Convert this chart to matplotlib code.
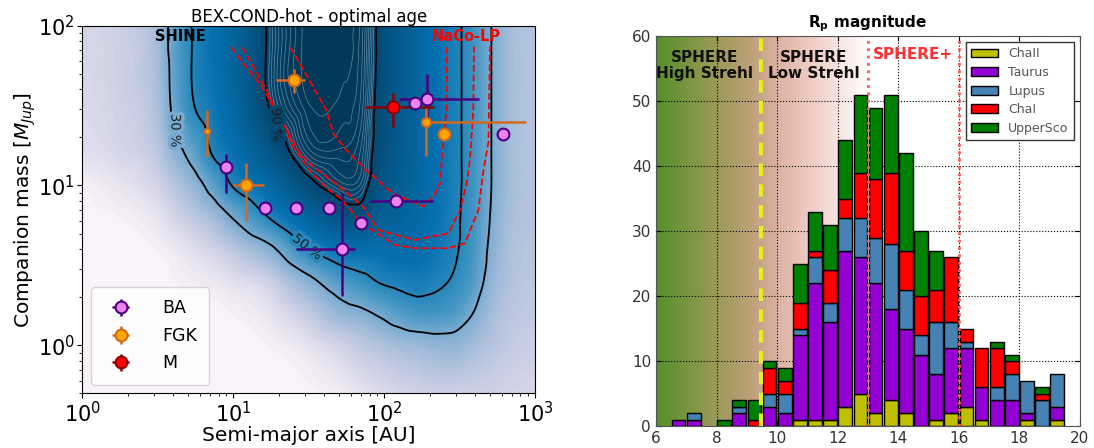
import numpy as np
import matplotlib.pyplot as plt
import matplotlib.tri as mtri
import matplotlib.patheffects as pe
from matplotlib.colors import LinearSegmentedColormap, PowerNorm

# ---------------- left panel: detection probability map ----------------
# probability on a grid (a in AU, m in M_Jup)
grid_a = [1, 1.78, 3.13, 4.16, 5.52, 7.33, 9.73, 17.1, 30.2, 53.3,
          70.8, 94.0, 125, 166, 220, 292, 387, 514, 682, 1000]
grid_m = [0.5, 1, 1.58, 2.51, 3.98, 6.31, 10, 15.8, 31.6, 100]
prob_rows = [
    [0, 0, 0, 0, 0, 0, 0, 0, 0, 0.02, 0.04, 0.06, 0.08, 0.09, 0.10, 0.10, 0.10, 0.10, 0.09, 0.08],
    [0, 0, 0, 0, 0, 0, 0, 0.01, 0.04, 0.10, 0.14, 0.17, 0.20, 0.22, 0.24, 0.24, 0.20, 0.16, 0.13, 0.11],
    [0, 0, 0, 0, 0, 0, 0.01, 0.04, 0.12, 0.24, 0.27, 0.32, 0.38, 0.42, 0.42, 0.39, 0.30, 0.20, 0.15, 0.13],
    [0, 0, 0, 0.01, 0.02, 0.03, 0.05, 0.10, 0.25, 0.40, 0.45, 0.51, 0.54, 0.56, 0.53, 0.48, 0.39, 0.24, 0.17, 0.14],
    [0, 0, 0.01, 0.03, 0.06, 0.09, 0.14, 0.26, 0.48, 0.62, 0.64, 0.63, 0.65, 0.64, 0.59, 0.52, 0.42, 0.27, 0.18, 0.15],
    [0, 0.01, 0.04, 0.09, 0.14, 0.20, 0.30, 0.50, 0.70, 0.84, 0.85, 0.76, 0.73, 0.68, 0.61, 0.53, 0.43, 0.29, 0.19, 0.16],
    [0.01, 0.04, 0.09, 0.16, 0.24, 0.36, 0.50, 0.67, 0.86, 0.94, 0.93, 0.83, 0.77, 0.70, 0.62, 0.54, 0.43, 0.30, 0.20, 0.16],
    [0.05, 0.08, 0.14, 0.25, 0.36, 0.51, 0.60, 0.80, 0.95, 0.97, 0.95, 0.86, 0.79, 0.71, 0.62, 0.54, 0.43, 0.30, 0.20, 0.16],
    [0.07, 0.10, 0.18, 0.35, 0.50, 0.58, 0.68, 0.90, 0.99, 0.99, 0.97, 0.87, 0.80, 0.71, 0.62, 0.54, 0.43, 0.30, 0.20, 0.16],
    [0.08, 0.11, 0.20, 0.38, 0.52, 0.62, 0.71, 0.91, 1.00, 1.00, 0.98, 0.88, 0.80, 0.71, 0.62, 0.54, 0.43, 0.30, 0.20, 0.16],
]

# NaCo-LP detection limits (red dashed)
naco_outer_a = [9.75, 11.7, 15.0, 20.4, 25.0, 33.1, 42.7, 52.4, 71.1, 118, 160, 267, 344, 380, 422, 444, 461, 491, 504]
naco_outer_m = [73.3, 57.7, 43.3, 26.8, 17.4, 12.0, 9.44, 8.18, 5.79, 4.25, 4.05, 4.05, 4.35, 5.52, 7.01, 10.4, 13.2, 18.5, 74]
naco_mid_a = [11.5, 13.6, 16.6, 21.5, 27.7, 34.0, 51.1, 72.8, 91.6, 160, 267, 319, 353, 371, 390, 394]
naco_mid_m = [73.3, 55.0, 39.4, 24.4, 15.8, 13.1, 9.8, 7.36, 5.26, 4.56, 5.02, 7.01, 10.4, 14.5, 29.8, 74]
naco_in_a = [24.0, 27.7, 34.0, 41.6, 46.1, 56.5, 76.6, 115, 182, 212, 235, 241, 260, 260]
naco_in_m = [73.3, 57.7, 41.2, 29.5, 21.1, 16.6, 12.4, 8.9, 7.4, 8.5, 10.3, 14.5, 31.3, 73.3]

# known companions
ba_a = [9.0, 16.2, 26.1, 42.9, 70.3, 52.5, 120, 160, 193, 615]
ba_m = [13.0, 7.2, 7.2, 7.2, 5.8, 4.0, 8.0, 32.7, 35.0, 20.9]
ba_a_lo = [9.0, 14.8, 26.1, 42.9, 70.3, 26.2, 80.4, 160, 126, 615]
ba_a_hi = [9.0, 16.2, 26.1, 42.9, 70.3, 63.9, 210, 160, 428, 615]
ba_m_lo = [9.0, 7.2, 7.2, 7.2, 5.8, 2.02, 7.3, 29.5, 25.0, 20.9]
ba_m_hi = [15.8, 7.2, 7.2, 7.2, 5.8, 8.96, 8.8, 36.0, 49.9, 20.9]

fgk_a = [6.74, 12.1, 25.1, 190, 249]
fgk_m = [22.0, 10.0, 45.8, 25.0, 20.9]
fgk_a_lo = [6.74, 9.9, 19.3, 190, 249]
fgk_a_hi = [6.74, 16.0, 30.0, 871, 249]
fgk_m_lo = [15.0, 6.0, 38.1, 15.2, 20.9]
fgk_m_hi = [29.7, 13.8, 53.4, 31.9, 20.9]
fgk_size = [4, 8.5, 8.5, 6.5, 8.5]

m_a = [115]
m_m = [30.9]
m_a_lo = [75]
m_a_hi = [215]
m_m_lo = [23.2]
m_m_hi = [37.8]

# ---------------- right panel: R_p magnitude histogram ----------------
mag_bins = np.arange(6.0, 19.5, 0.5)
chaII = [0, 0, 0, 0, 0, 0, 0, 0, 0, 1, 1, 1, 3, 5, 2, 4, 2, 0, 1, 2, 3, 1, 0, 0, 1, 0, 1]
taurus = [0, 1, 1, 0, 0, 2, 0, 3, 2, 13, 21, 15, 24, 21, 20, 14, 13, 11, 7, 10, 9, 5, 4, 4, 1, 0, 2]
lupus = [0, 0, 1, 0, 0, 1, 0, 2, 3, 1, 4, 3, 5, 6, 7, 10, 6, 3, 8, 4, 1, 0, 2, 4, 5, 4, 5]
chaI = [0, 0, 0, 0, 0, 0, 1, 4, 2, 4, 1, 5, 3, 7, 9, 11, 6, 6, 5, 10, 2, 6, 6, 2, 0, 1, 0]
uppersco = [0, 0, 0, 0, 1, 1, 3, 1, 2, 6, 6, 7, 9, 12, 11, 12, 15, 10, 6, 0, 0, 0, 1, 1, 0, 1, 0]
regions = ['ChaII', 'Taurus', 'Lupus', 'ChaI', 'UpperSco']
region_colors = ['#bfbf00', '#9400d3', '#4682b4', '#ff0000', '#008000']

fig = plt.figure(figsize=(10.94, 4.48), dpi=100)

# ======== left ========
ax = fig.add_axes([0.0754, 0.1221, 0.4136, 0.8205])

# smooth the read grid with matplotlib's cubic triangle interpolator
lx, ly = np.meshgrid(np.log10(grid_a), np.log10(grid_m))
nx, ny = len(grid_a), len(grid_m)
tris = []
for j in range(ny - 1):
    for i in range(nx - 1):
        k = j * nx + i
        tris.append([k, k + 1, k + nx + 1])
        tris.append([k, k + nx + 1, k + nx])
tri = mtri.Triangulation(lx.ravel(), ly.ravel(), tris)
interp = mtri.CubicTriInterpolator(tri, np.array(prob_rows).ravel(), kind='geom')
gx = np.linspace(lx.min() + 1e-9, lx.max() - 1e-9, 360)
gy = np.linspace(ly.min() + 1e-9, ly.max() - 1e-9, 300)
GX, GY = np.meshgrid(gx, gy)
P = np.clip(np.ma.filled(interp(GX, GY), 0.0), 0, 1)
A, M = 10 ** GX, 10 ** GY

cmap = plt.get_cmap('PuBu')
norm = PowerNorm(gamma=0.6, vmin=0, vmax=1)
ax.contourf(A, M, P, levels=np.linspace(0, 1.0001, 101), cmap=cmap, norm=norm, zorder=0)
ax.contour(A, M, P, levels=np.arange(0.915, 1.0, 0.01), colors='#9fb8cc',
           linewidths=0.5, alpha=0.6, zorder=0.5)
cs = ax.contour(A, M, P, levels=[0.3, 0.5, 0.9], colors='black', linewidths=1.3, zorder=1)
labels = ax.clabel(cs, fmt={0.3: '30 %', 0.5: '50 %', 0.9: '90 %'}, fontsize=9.5,
                   manual=[(4.3, 22), (32, 4.3), (23, 24)], inline=False)
for t in labels:
    lvl = float(t.get_text().split()[0]) / 100.0
    t.set_color('#202020')
    t.set_path_effects([pe.withStroke(linewidth=5, foreground=cmap(norm(lvl)))])

for xa, ym in [(naco_outer_a, naco_outer_m), (naco_mid_a, naco_mid_m), (naco_in_a, naco_in_m)]:
    ax.plot(xa, ym, color='red', linestyle='--', linewidth=1.3, zorder=2)


def draw_group(a, m, a_lo, a_hi, m_lo, m_hi, sizes, fc, ec):
    handle = None
    best = -1
    for i in range(len(a)):
        xe = [[a[i] - a_lo[i]], [a_hi[i] - a[i]]]
        ye = [[m[i] - m_lo[i]], [m_hi[i] - m[i]]]
        h = ax.errorbar([a[i]], [m[i]], xerr=xe, yerr=ye, fmt='o', ms=sizes[i],
                        mfc=fc, mec=ec, mew=1.5, ecolor=ec, elinewidth=1.8,
                        capsize=0, zorder=5)
        if sizes[i] > best:
            best = sizes[i]
            handle = h
    return handle


h_ba = draw_group(ba_a, ba_m, ba_a_lo, ba_a_hi, ba_m_lo, ba_m_hi, [8.5] * len(ba_a),
                  'violet', '#4b0082')
h_fgk = draw_group(fgk_a, fgk_m, fgk_a_lo, fgk_a_hi, fgk_m_lo, fgk_m_hi, fgk_size,
                   'orange', '#d2691e')
h_m = draw_group(m_a, m_m, m_a_lo, m_a_hi, m_m_lo, m_m_hi, [8.5],
                 'red', '#8b0000')

ax.set_xscale('log')
ax.set_yscale('log')
ax.set_xlim(1, 1000)
ax.set_ylim(0.5, 100)
ax.text(0.217, 0.972, 'SHINE', transform=ax.transAxes, ha='center', va='center',
        fontsize=10.5, fontweight='bold', color='black')
ax.text(0.849, 0.972, 'NaCo-LP', transform=ax.transAxes, ha='center', va='center',
        fontsize=10.5, fontweight='bold', color='red')
ax.set_title('BEX-COND-hot - optimal age', fontsize=12, pad=3)
ax.set_xlabel('Semi-major axis [AU]', fontsize=14.5, labelpad=0)
ax.set_ylabel('Companion mass [$M_{Jup}$]', fontsize=14.5, labelpad=0)
ax.tick_params(axis='both', which='major', labelsize=15, pad=2)
ax.legend([h_ba, h_fgk, h_m], ['BA', 'FGK', 'M'], loc='lower left', fontsize=12.5,
          handletextpad=1.4, borderpad=0.7, labelspacing=0.55)

# ======== right ========
ax2 = fig.add_axes([0.5996, 0.0491, 0.3876, 0.8705])

bg_pos = [6, 7, 8, 9, 9.45, 10, 11, 12, 13]
bg_colors = ['#55902a', '#789540', '#9d9a5a', '#b8a074', '#c9a68a', '#dcb2a3',
             '#edcac1', '#f8e4e0', '#ffffff']
bg_cmap = LinearSegmentedColormap.from_list(
    'bg', [((p - 6) / 7.0, c) for p, c in zip(bg_pos, bg_colors)])
ax2.imshow(np.linspace(0, 1, 400)[None, :], extent=[6, 13, 0, 60], aspect='auto',
           cmap=bg_cmap, zorder=0)

bottom = np.zeros(len(mag_bins))
for name, vals, col in zip(regions, [chaII, taurus, lupus, chaI, uppersco], region_colors):
    vals = np.array(vals, dtype=float)
    nz = vals > 0
    ax2.bar(mag_bins[nz] + 0.25, vals[nz], width=0.45, bottom=bottom[nz], color=col,
            edgecolor='black', linewidth=1, label=name, zorder=2)
    bottom += vals

ax2.axvline(9.47, color='#e4f020', linestyle='--', linewidth=3, dashes=(3, 2), zorder=3)
ax2.axvline(13, color='#ff5a5a', linestyle=':', linewidth=2, zorder=3)
ax2.axvline(16, color='#ff5a5a', linestyle=':', linewidth=2, zorder=3)

ax2.text(7.6, 55.5, 'SPHERE\nHigh Strehl', ha='center', va='center', fontsize=11,
         fontweight='bold', color='#111111', linespacing=1.1)
ax2.text(11.2, 55.5, 'SPHERE\nLow Strehl', ha='center', va='center', fontsize=11,
         fontweight='bold', color='#111111', linespacing=1.1)
ax2.text(14.5, 57.1, 'SPHERE+', ha='center', va='center', fontsize=11,
         fontweight='bold', color='#ff3030')

ax2.set_xlim(6, 20)
ax2.set_ylim(0, 60)
ax2.set_xticks(range(6, 21, 2))
ax2.set_yticks(range(0, 61, 10))
ax2.set_axisbelow(True)
ax2.grid(True, linestyle=':', color='black', linewidth=0.8)
ax2.tick_params(direction='in', top=True, right=True, labelsize=11, labelcolor='#333333')
for s in ax2.spines.values():
    s.set_color('#555555')
ax2.set_title(r'R$_\mathbf{p}$ magnitude', fontsize=11, fontweight='bold')
leg = ax2.legend(loc='upper right', fontsize=9, fancybox=False, framealpha=1,
                 edgecolor='#333333', labelspacing=0.45, handlelength=2.2)
for t in leg.get_texts():
    t.set_color('#555555')

fig.savefig('out.png', dpi=100)
